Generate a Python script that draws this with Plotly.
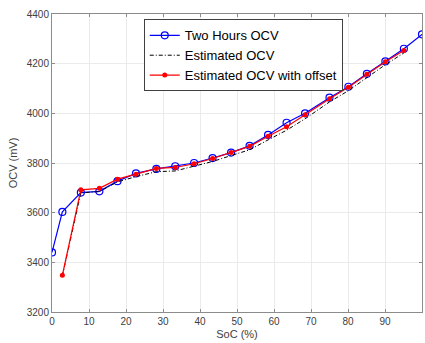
import plotly.graph_objects as go

# State of charge (%) at each measurement
soc = [0, 2.8, 7.8, 12.8, 17.7, 22.7, 28.2, 33.3, 38.4, 43.4, 48.4,
       53.4, 58.4, 63.4, 68.4, 75.0, 80.1, 85.1, 90.1, 95.1, 100]

# Two hours rest OCV (mV)
ocv_2h = [3440, 3603, 3681, 3686, 3727, 3758, 3776, 3787, 3800, 3820, 3842,
          3869, 3913, 3962, 4000, 4063, 4107, 4159, 4209, 4260, 4318]

# Estimated curves cover 2.8 % .. 95.1 %
soc_est = soc[1:20]
ocv_est = [3345, 3680, 3685, 3724, 3745, 3765, 3768, 3786, 3806, 3830,
           3853, 3893, 3932, 3978, 4046, 4091, 4144, 4196, 4243]
ocv_est_offset = [3348, 3692, 3698, 3735, 3755, 3778, 3782, 3797, 3818, 3842,
                  3867, 3908, 3946, 3994, 4059, 4105, 4157, 4208, 4253]

x_ticks = [0, 10, 20, 30, 40, 50, 60, 70, 80, 90, 100]
y_ticks = [3200, 3400, 3600, 3800, 4000, 4200, 4400]

fig = go.Figure()
fig.add_trace(go.Scatter(
    x=soc, y=ocv_2h, name="Two Hours OCV", mode="lines+markers",
    line=dict(color="#0000ff", width=1.2),
    marker=dict(symbol="circle-open", size=7, color="#0000ff", line=dict(width=1.2)),
))
fig.add_trace(go.Scatter(
    x=soc_est, y=ocv_est, name="Estimated OCV", mode="lines",
    line=dict(color="#000000", width=1, dash="4px,2px,1px,2px"),
))
fig.add_trace(go.Scatter(
    x=soc_est, y=ocv_est_offset, name="Estimated OCV with offset", mode="lines+markers",
    line=dict(color="#ff0000", width=1.2),
    marker=dict(symbol="circle", size=5, color="#ff0000"),
))

axis_common = dict(
    showgrid=True, gridcolor="#ebebeb", gridwidth=1,
    showline=True, linecolor="#8c8c8c", linewidth=1, mirror="ticks",
    ticks="inside", ticklen=3, tickcolor="#8c8c8c",
    tickfont=dict(family="Liberation Sans, Arial", size=10, color="#404040"),
    zeroline=False,
)

fig.update_layout(
    width=425, height=343,
    margin=dict(l=52, r=3, t=14, b=31),
    paper_bgcolor="white", plot_bgcolor="white",
    font=dict(family="Liberation Sans, Arial", color="#404040"),
    showlegend=True,
    legend=dict(
        x=0.248, y=0.982, xanchor="left", yanchor="top",
        bgcolor="white", bordercolor="#404040", borderwidth=1,
        font=dict(family="Liberation Sans, Arial", size=13, color="#000000"),
        itemwidth=30, tracegroupgap=0,
    ),
    xaxis=dict(axis_common, range=[0, 100], tickvals=x_ticks,
               title=dict(text="SoC (%)", font=dict(size=11, color="#404040"), standoff=4)),
    yaxis=dict(axis_common, range=[3200, 4400], tickvals=y_ticks,
               title=dict(text="OCV (mV)", font=dict(size=11, color="#404040"), standoff=6)),
)

fig.write_html("out.html")
